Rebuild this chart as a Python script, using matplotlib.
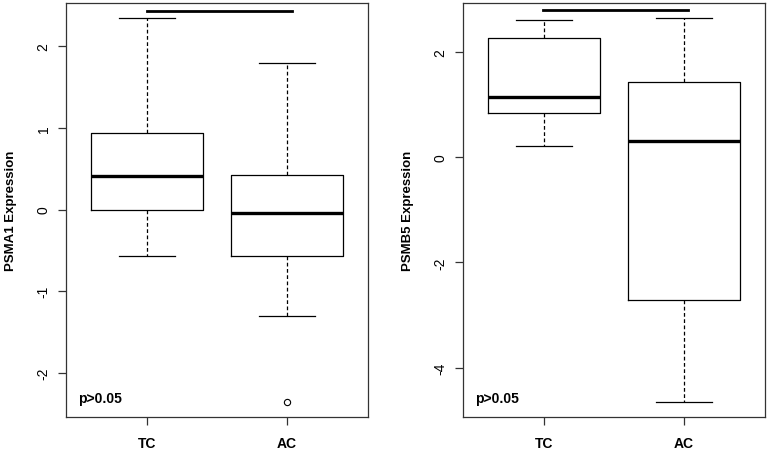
import matplotlib
matplotlib.use('Agg')
import matplotlib.pyplot as plt

# group names
groups = ['TC', 'AC']

# PSMA1 box statistics (whisker low, Q1, median, Q3, whisker high)
psma1_whislo = [-0.57, -1.30]
psma1_q1 = [0.00, -0.57]
psma1_med = [0.41, -0.04]
psma1_q3 = [0.94, 0.42]
psma1_whishi = [2.35, 1.79]
psma1_fliers = [[], [-2.36]]

# PSMB5 box statistics
psmb5_whislo = [0.21, -4.65]
psmb5_q1 = [0.83, -2.72]
psmb5_med = [1.15, 0.30]
psmb5_q3 = [2.27, 1.43]
psmb5_whishi = [2.60, 2.65]
psmb5_fliers = [[], []]

plt.rcParams['font.family'] = ['Liberation Sans', 'DejaVu Sans']

fig = plt.figure(figsize=(7.68, 4.52), dpi=100)
ax1 = fig.add_axes([0.0859, 0.0752, 0.393, 0.916])
ax2 = fig.add_axes([0.6029, 0.0752, 0.393, 0.916])


def make_stats(lo, q1, med, q3, hi, fl):
    stats = []
    for i in range(len(groups)):
        stats.append({'whislo': lo[i], 'q1': q1[i], 'med': med[i], 'q3': q3[i],
                      'whishi': hi[i], 'fliers': fl[i], 'label': groups[i]})
    return stats


def draw(ax, stats, ylabel, ylim, yticks, sig_y, sig_x):
    ax.bxp(stats, positions=[1, 2], widths=0.8, showfliers=True,
           boxprops=dict(color='black', linewidth=0.9),
           medianprops=dict(color='black', linewidth=2.4, solid_capstyle='butt'),
           whiskerprops=dict(color='black', linewidth=0.9, linestyle=(0, (3, 2))),
           capprops=dict(color='black', linewidth=0.9),
           capwidths=0.4,
           flierprops=dict(marker='o', markersize=4.5, markerfacecolor='none',
                           markeredgecolor='black', markeredgewidth=0.8))
    ax.set_xlim(0.42, 2.58)
    ax.set_ylim(*ylim)
    ax.set_yticks(yticks)
    ax.set_yticklabels([str(t) for t in yticks], rotation=90, va='center', fontsize=10)
    ax.set_xticks([1, 2])
    ax.set_xticklabels(groups, fontsize=10, fontweight='bold')
    ax.tick_params(axis='both', direction='out', length=6, width=0.9, color='#333333')
    ax.tick_params(axis='x', pad=8)
    ax.tick_params(axis='y', pad=5)
    for s in ax.spines.values():
        s.set_color('#333333')
        s.set_linewidth(0.9)
    ax.set_ylabel(ylabel, fontsize=9.5, fontweight='bold', labelpad=14)
    ax.plot(sig_x, [sig_y, sig_y], color='black', linewidth=2)
    ax.text(0.04, 0.045, 'p>0.05', transform=ax.transAxes, fontsize=10,
            fontweight='bold', va='center', ha='left')


draw(ax1, make_stats(psma1_whislo, psma1_q1, psma1_med, psma1_q3, psma1_whishi, psma1_fliers),
     'PSMA1 Expression', (-2.54, 2.53), [-2, -1, 0, 1, 2], 2.435, [1, 2.04])
draw(ax2, make_stats(psmb5_whislo, psmb5_q1, psmb5_med, psmb5_q3, psmb5_whishi, psmb5_fliers),
     'PSMB5 Expression', (-4.94, 2.93), [-4, -2, 0, 2], 2.80, [0.99, 2.03])

fig.savefig('out.png', dpi=100)
